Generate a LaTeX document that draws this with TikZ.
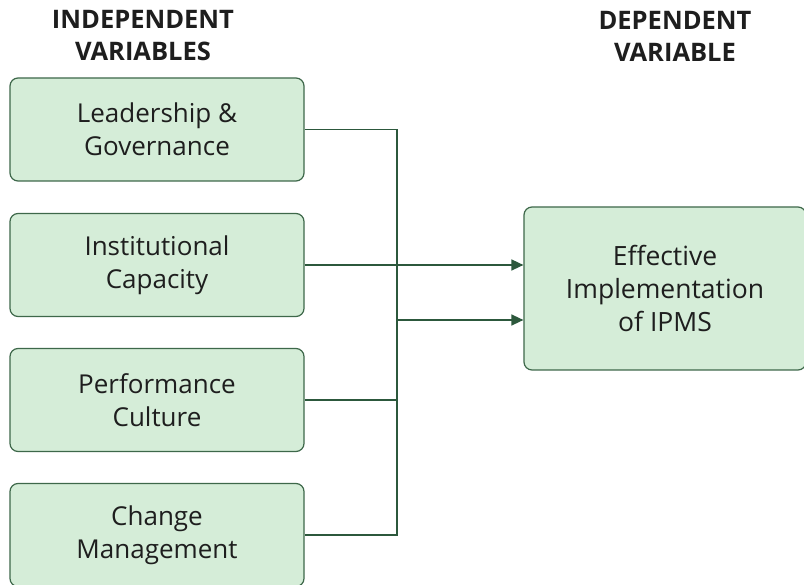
\documentclass[tikz,border=0pt]{standalone}
\usepackage{fontspec}
\setmainfont{Open Sans}
\usetikzlibrary{arrows.meta}
\definecolor{boxfill}{RGB}{213,237,216}
\definecolor{boxline}{RGB}{62,104,74}
\definecolor{wire}{RGB}{44,88,60}
\definecolor{ink}{RGB}{30,30,30}
\tikzset{
  varbox/.style={draw=boxline, fill=boxfill, line width=1.2pt, rounded corners=8pt,
    minimum width=294pt, minimum height=103pt, align=center, text=ink,
    font=\fontsize{26}{32.5}\selectfont, inner sep=0pt},
  outbox/.style={varbox, minimum width=282pt, minimum height=163pt,
    font=\fontsize{26.5}{33}\selectfont},
  heading/.style={align=center, text=ink, font=\fontsize{25.5}{32}\selectfont\bfseries},
  wireline/.style={draw=wire, line width=1.5pt},
  arrowline/.style={wireline, -{Triangle[length=12pt,width=11pt]}}
}
\begin{document}
\begin{tikzpicture}[x=1pt,y=-1pt]
  \useasboundingbox (0,0) rectangle (804,585);
  \fill[white] (0,0) rectangle (804,585);

  % column headings
  \node[heading] (hind) at (143,36) {INDEPENDENT\\VARIABLES};
  \node[heading] (hdep) at (675,36) {DEPENDENT\\VARIABLE};

  % independent variables
  \node[varbox] (lead) at (157,129.5) {Leadership \&\\Governance};
  \node[varbox] (inst) at (157,265) {Institutional\\Capacity};
  \node[varbox] (perf) at (157,400) {Performance\\Culture};
  \node[varbox] (chng) at (157,535) {Change\\Management};

  % dependent variable
  \node[outbox] (ipms) at (665,288.5) {Effective\\Implementation\\of IPMS};

  % collecting bus
  \coordinate (bustop) at (397,129.5);
  \coordinate (busbot) at (397,535);
  \coordinate (busout) at (397,320);

  \draw[wireline] (lead.east) -- (bustop) -- (busbot) -- (chng.east);
  \draw[wireline] (perf.east) -- (perf.east -| bustop);
  \draw[arrowline] (inst.east) -- (inst.east -| ipms.west);
  \draw[arrowline] (busout) -- (busout -| ipms.west);
\end{tikzpicture}
\end{document}
